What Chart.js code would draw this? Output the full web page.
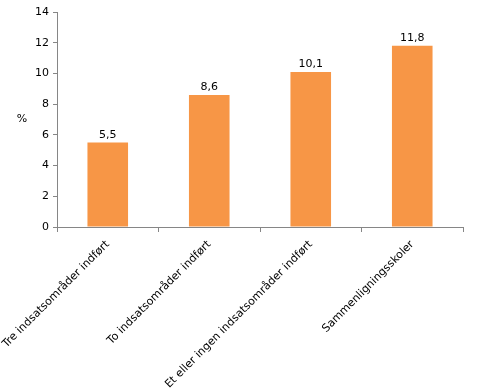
<!DOCTYPE html>
<html>
<head>
<meta charset="utf-8">
<script src="https://cdn.jsdelivr.net/npm/chart.js@4/dist/chart.umd.min.js"></script>
<style>
  body { margin: 0; background: #fff; }
</style>
</head>
<body>
<canvas id="myChart" width="477" height="391"></canvas>
<script>
const categories = ["Tre indsatsområder indført", "To indsatsområder indført", "Et eller ingen indsatsområder indført", "Sammenligningsskoler"];
const values = [5.5, 8.6, 10.1, 11.8];
const yTicks = [0, 2, 4, 6, 8, 10, 12, 14];
const yLabel = "%";

const FONT = "Verdana, 'DejaVu Sans', sans-serif";

// value labels above the bars, Danish decimal comma
const barLabels = {
    id: 'barLabels',
    afterDatasetsDraw(chart) {
        const ctx = chart.ctx;
        const meta = chart.getDatasetMeta(0);
        ctx.save();
        ctx.font = "11px " + FONT;
        ctx.fillStyle = "#000";
        ctx.textAlign = "center";
        ctx.textBaseline = "bottom";
        meta.data.forEach((bar, i) => {
            ctx.fillText(values[i].toFixed(1).replace('.', ','), bar.x, bar.y - 2);
        });
        ctx.restore();
    }
}

// unrotated "%" axis title
const axisTitle = {
    id: 'axisTitle',
    afterDraw(chart) {
        const ctx = chart.ctx;
        const area = chart.chartArea;
        ctx.save();
        ctx.font = "11px " + FONT;
        ctx.fillStyle = "#000";
        ctx.textAlign = "center";
        ctx.textBaseline = "middle";
        ctx.fillText(yLabel, 22, (area.top + area.bottom) / 2);
        ctx.restore();
    }
}

var ctx = document.getElementById('myChart').getContext('2d');
var chart = new Chart(ctx, {
    type: 'bar',
    data: {
        labels: categories,
        datasets: [{
            data: values,
            backgroundColor: '#F79646',
            borderWidth: 0,
            categoryPercentage: 1,
            barPercentage: 0.4
        }]
    },
    options: {
        responsive: false,
        animation: false,
        layout: { padding: { top: 12, right: 14, left: 0, bottom: 0 } },
        plugins: { legend: { display: false }, tooltip: { enabled: false } },
        scales: {
            x: {
                offset: true,
                grid: { display: true, drawOnChartArea: false, offset: true, color: '#868686', tickLength: 5 },
                border: { color: '#868686' },
                ticks: {
                    autoSkip: false, maxRotation: 45, minRotation: 45,
                    color: '#000', font: { family: FONT, size: 11 }, padding: 6
                },
                afterFit: (scale) => {
                    scale.height = 164;
                    scale.paddingLeft = 0;
                    scale.paddingRight = 0;
                }
            },
            y: {
                min: 0, max: 14,
                afterBuildTicks: (scale) => { scale.ticks = yTicks.map(v => ({ value: v })); },
                grid: { display: true, drawOnChartArea: false, color: '#868686', tickLength: 4 },
                border: { color: '#868686' },
                ticks: { color: '#000', font: { family: FONT, size: 11 }, padding: 4 },
                afterFit: (scale) => { scale.width = 57; }
            }
        }
    },
    plugins: [barLabels, axisTitle]
});
</script>
</body>
</html>
